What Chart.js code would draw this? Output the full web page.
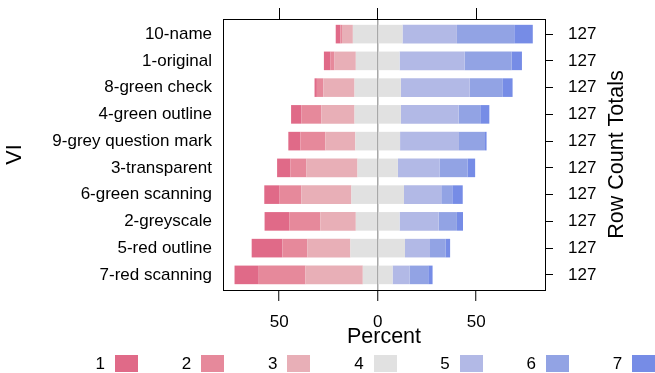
<!DOCTYPE html>
<html>
<head>
<meta charset="utf-8">
<script src="https://cdn.jsdelivr.net/npm/chart.js@4"></script>
<style>
  html,body{margin:0;padding:0;background:#fff;}
  #wrap{position:relative;width:655px;height:373px;font-family:"Liberation Sans",Arial,sans-serif;}
  #legend .txt{position:absolute;font-size:17px;color:#000;line-height:17px;text-align:right;width:20px;}
  #legend .box{position:absolute;width:23px;height:17px;}
</style>
</head>
<body>
<div id="wrap">
  <canvas id="chart" width="655" height="373"></canvas>
  <div id="legend"></div>
</div>
<script>
/* ---- data (percent of 127 answers per row) ---- */
const items = ['10-name','1-original','8-green check','4-green outline','9-grey question mark',
               '3-transparent','6-green scanning','2-greyscale','5-red outline','7-red scanning'];
const totals = [127,127,127,127,127,127,127,127,127,127];
const levels = ['1','2','3','4','5','6','7'];

const resp1 = [2.4, 3.4, 1.2, 5.3, 6.1, 6.8, 7.8, 12.5, 15.6, 12.3];
const resp2 = [0.8, 2.0, 3.3, 10.1, 12.7, 8.1, 11.0, 15.8, 12.7, 23.7];
const resp3 = [5.5, 10.8, 15.8, 16.8, 15.2, 25.9, 25.4, 18.0, 21.8, 29.1];
const resp4 = [25.2, 22.2, 23.5, 23.5, 22.7, 20.5, 26.7, 22.2, 27.7, 15.1];
const resp5 = [27.6, 33.0, 34.9, 29.3, 29.9, 21.1, 18.9, 19.8, 12.7, 8.6];
const resp6 = [29.1, 23.9, 16.6, 11.0, 13.2, 14.2, 5.6, 9.3, 8.0, 9.5];
const resp7 = [9.4, 5.2, 5.2, 4.6, 0.8, 3.9, 5.3, 3.1, 2.2, 2.2];

const xTicks = [-50, 0, 50];

const COLORS = ['#E06A88','#E6899B','#E8AFB7','#E1E1E1','#B2B9E6','#92A3E4','#768CE6'];
const FONT = '"Liberation Sans", Arial, sans-serif';

Chart.defaults.font.family = FONT;
Chart.defaults.color = '#000';

// rows sit on a numeric axis (row index) so the panel keeps lattice's extra margin
const toPoints = arr => arr.map((v, i) => ({ x: v, y: i }));
// neutral answers are split half to each side of zero, disagree side goes negative
const neg = arr => arr.map(v => -v);
const half = arr => arr.map(v => v / 2);

function ds(label, data, color){
  return { label, data: toPoints(data), backgroundColor: color, borderWidth: 0, stack: 'likert',
           barPercentage: 0.695, categoryPercentage: 1 };
}

const datasets = [
  ds('4', neg(half(resp4)), COLORS[3]),
  ds('3', neg(resp3), COLORS[2]),
  ds('2', neg(resp2), COLORS[1]),
  ds('1', neg(resp1), COLORS[0]),
  ds('4', half(resp4), COLORS[3]),
  ds('5', resp5, COLORS[4]),
  ds('6', resp6, COLORS[5]),
  ds('7', resp7, COLORS[6])
];

const setXTicks = scale => { scale.ticks = xTicks.map(v => ({ value: v })); };
const setRowTicks = scale => { scale.ticks = items.map((_, i) => ({ value: i })); };
const fixWidth = w => s => { s.width = w; s.paddingTop = 0; s.paddingBottom = 0; };
const Y_MIN = -0.565, Y_MAX = 9.565;

const rightTitle = {
  id: 'rightTitle',
  afterDraw(chart){
    const {ctx, chartArea} = chart;
    ctx.save();
    ctx.translate(617, (chartArea.top + chartArea.bottom) / 2);
    ctx.rotate(-Math.PI / 2);
    ctx.font = '21.5px ' + FONT;
    ctx.fillStyle = '#000';
    ctx.textAlign = 'center';
    ctx.textBaseline = 'middle';
    ctx.fillText('Row Count Totals', 0, 0);
    ctx.restore();
  }
};

new Chart(document.getElementById('chart'), {
  type: 'bar',
  data: { datasets },
  plugins: [rightTitle],
  options: {
    indexAxis: 'y',
    responsive: false,
    animation: false,
    layout: { padding: { top: 0, left: 0, right: 0, bottom: 23 } },
    plugins: { legend: { display: false }, tooltip: { enabled: false } },
    scales: {
      x: {
        type: 'linear', position: 'bottom', stacked: true, min: -78.5, max: 84.9,
        afterBuildTicks: setXTicks,
        afterFit: s => { s.height = 60; s.paddingLeft = 0; s.paddingRight = 0; },
        grid: {
          drawOnChartArea: true, drawTicks: true, tickLength: 11, tickColor: '#000', tickWidth: 1,
          color: c => (c.tick && c.tick.value === 0) ? '#A8A8A8' : 'rgba(0,0,0,0)',
          lineWidth: 1.5
        },
        border: { display: true, color: '#000', width: 1 },
        ticks: { font: { size: 17 }, padding: 11, callback: v => Math.abs(v) },
        title: { display: true, text: 'Percent', font: { size: 21.5 }, padding: { top: 0, bottom: 0 } }
      },
      x2: {
        type: 'linear', position: 'top', min: -78.5, max: 84.9,
        afterBuildTicks: setXTicks,
        afterFit: s => { s.height = 19; s.paddingLeft = 0; s.paddingRight = 0; },
        grid: { drawOnChartArea: false, drawTicks: true, tickLength: 11, tickColor: '#000' },
        border: { display: true, color: '#000', width: 1 },
        ticks: { display: false }
      },
      y: {
        type: 'linear', position: 'left', stacked: true, reverse: true, min: Y_MIN, max: Y_MAX,
        offset: false,
        afterBuildTicks: setRowTicks,
        afterFit: fixWidth(223),
        grid: { drawOnChartArea: false, drawTicks: false, offset: false },
        border: { display: true, color: '#000', width: 1 },
        ticks: { font: { size: 17 }, padding: 11, callback: v => items[v] },
        title: { display: true, text: 'VI', font: { size: 21.5 }, padding: { top: 2, bottom: 0 } }
      },
      y2: {
        type: 'linear', position: 'right', reverse: true, min: Y_MIN, max: Y_MAX,
        offset: false,
        afterBuildTicks: setRowTicks,
        afterFit: fixWidth(110),
        grid: { drawOnChartArea: false, drawTicks: true, tickLength: 8, tickColor: '#000', offset: false },
        border: { display: true, color: '#000', width: 1 },
        ticks: { font: { size: 17 }, padding: 15, callback: v => String(totals[v]) }
      }
    }
  }
});

// legend: number to the left of its colour box, one row under the plot
const legend = document.getElementById('legend');
levels.forEach((lab, i) => {
  const boxLeft = 115 + i * 86.2;
  const t = document.createElement('div');
  t.className = 'txt';
  t.textContent = lab;
  t.style.left = (boxLeft - 10 - 20) + 'px';
  t.style.top = '355px';
  const b = document.createElement('div');
  b.className = 'box';
  b.style.left = boxLeft + 'px';
  b.style.top = '355px';
  b.style.background = COLORS[i];
  legend.appendChild(t);
  legend.appendChild(b);
});
</script>
</body>
</html>
